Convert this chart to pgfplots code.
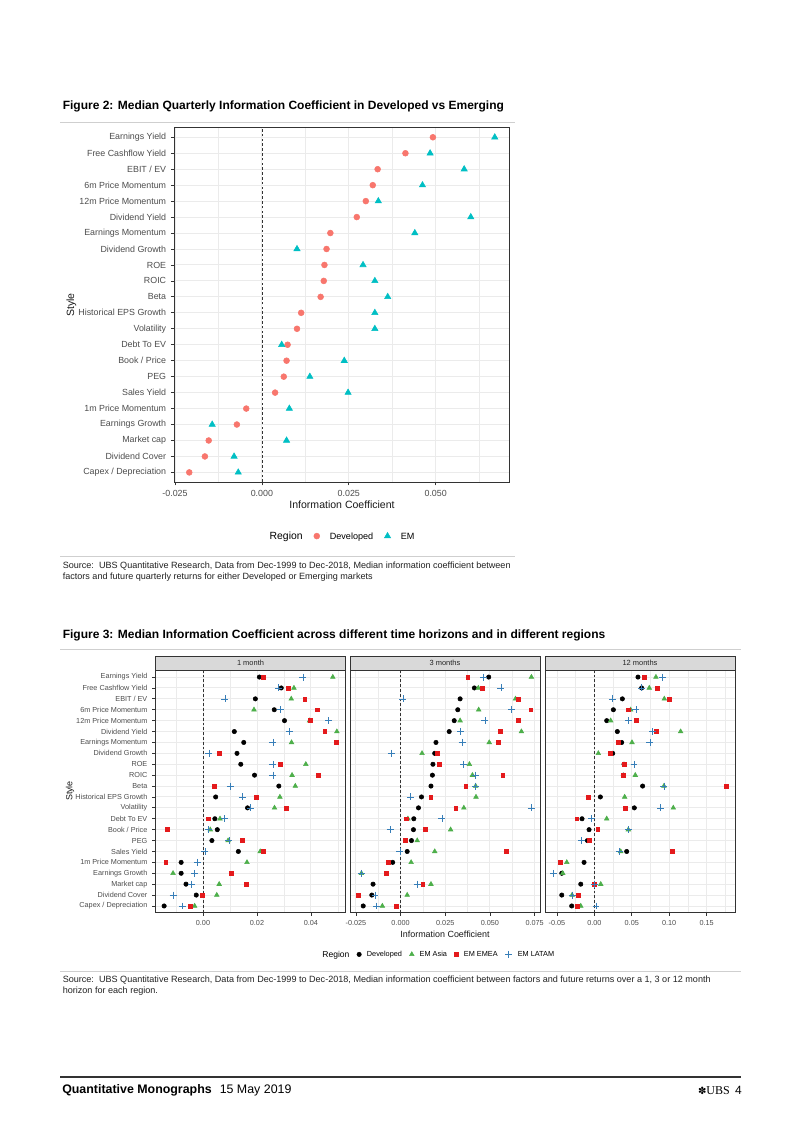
\documentclass[border=0pt]{standalone}
\usepackage{fontspec}
\setmainfont{Liberation Sans}
\newfontfamily\dejavu{DejaVu Sans}
\newfontfamily\tnr{Liberation Serif}
\usepackage{pgfplots}
\usepackage{pgfplotstable}
\pgfplotsset{compat=1.18}

\definecolor{devred}{HTML}{F8766D}
\definecolor{emcyan}{HTML}{00BFC4}
\definecolor{asiagreen}{HTML}{4DAF4A}
\definecolor{emeared}{HTML}{E41A1C}
\definecolor{latamblue}{HTML}{377EB8}
\definecolor{gridcol}{HTML}{EBEBEB}
\definecolor{frame}{HTML}{333333}
\definecolor{ticktext}{HTML}{4D4D4D}
\definecolor{stripfill}{HTML}{D9D9D9}
\definecolor{rulecol}{HTML}{CFCFCF}
\definecolor{bodytext}{HTML}{222222}

\newcommand{\fs}[1]{\fontsize{#1}{#1}\selectfont}

% Figure 2: median quarterly IC, rows numbered from the bottom (Capex=1)
\pgfplotstableread{
y  dev     em
22 0.0492  0.0670
21 0.0413  0.0484
20 0.0333  0.0582
19 0.0319  0.0462
18 0.0299  0.0335
17 0.0273  0.0601
16 0.0197  0.0440
15 0.0186  0.0101
14 0.0180  0.0291
13 0.0178  0.0325
12 0.0169  0.0362
11 0.0113  0.0325
10 0.0101  0.0325
9  0.0074  0.0057
8  0.0071  0.0237
7  0.0063  0.0138
6  0.0038  0.0248
5  -0.0045 0.0079
4  -0.0072 -0.0143
3  -0.0153 0.0071
2  -0.0164 -0.0080
1  -0.0209 -0.0068
}\figtwo

% Figure 3: 1 month
\pgfplotstableread{
y  dev     asia    emea    latam
22 0.0209  0.0481  0.0222  0.0370
21 0.0290  0.0337  0.0316  0.0280
20 0.0194  0.0327  0.0377  0.0081
19 0.0264  0.0189  0.0422  0.0286
18 0.0302  0.0395  0.0398  0.0465
17 0.0116  0.0496  0.0451  0.0319
16 0.0151  0.0328  0.0494  0.0259
15 0.0126  nan     0.0060  0.0022
14 0.0140  0.0381  0.0285  0.0259
13 0.0191  0.0330  0.0428  0.0259
12 0.0281  0.0342  0.0043  0.0101
11 0.0047  0.0285  0.0198  0.0146
10 0.0165  0.0265  0.0307  0.0175
9  0.0044  0.0063  0.0020  0.0079
8  0.0053  0.0027  -0.0133 0.0021
7  0.0033  0.0093  0.0144  0.0096
6  0.0131  0.0212  0.0223  0.0007
5  -0.0081 0.0163  -0.0138 -0.0021
4  -0.0081 -0.0111 0.0105  -0.0031
3  -0.0063 0.0060  0.0160  -0.0042
2  -0.0025 0.0051  -0.0004 -0.0111
1  -0.0144 -0.0031 -0.0046 -0.0077
}\onem

% 3 months
\pgfplotstableread{
y  dev     asia    emea    latam
22 0.0493  0.0732  0.0376  0.0463
21 0.0413  0.0435  0.0457  0.0561
20 0.0333  0.0643  0.0657  0.0013
19 0.0320  0.0437  0.0728  0.0620
18 0.0300  0.0333  0.0657  0.0472
17 0.0272  0.0676  0.0559  0.0337
16 0.0198  0.0496  0.0548  0.0344
15 0.0191  0.0120  0.0206  -0.0052
14 0.0181  0.0385  0.0215  0.0352
13 0.0178  0.0402  0.0572  0.0417
12 0.0170  0.0420  0.0365  0.0420
11 0.0117  0.0422  0.0169  0.0056
10 0.0100  0.0354  0.0309  0.0732
9  0.0074  0.0041  0.0030  0.0231
8  0.0072  0.0280  0.0139  -0.0059
7  0.0061  0.0093  0.0026  nan
6  0.0037  0.0191  0.0593  -0.0004
5  -0.0044 0.0059  -0.0069 nan
4  nan     -0.0219 -0.0078 -0.0219
3  -0.0154 0.0170  0.0124  0.0093
2  -0.0161 0.0037  -0.0235 -0.0143
1  -0.0209 -0.0102 -0.0022 -0.0133
}\threem

% 12 months
\pgfplotstableread{
y  dev     asia    emea    latam
22 0.0583  0.0823  0.0663  0.0912
21 0.0632  0.0734  0.0841  0.0632
20 0.0374  0.0935  0.1001  0.0240
19 0.0254  0.0485  0.0458  0.0556
18 0.0165  0.0218  0.0556  0.0454
17 0.0307  0.1153  0.0832  0.0779
16 0.0365  0.0503  0.0316  0.0743
15 0.0245  0.0053  0.0218  nan
14 0.0396  nan     0.0396  0.0530
13 0.0387  0.0547  0.0387  nan
12 0.0645  0.0930  0.1760  0.0930
11 0.0080  0.0405  -0.0080 nan
10 0.0534  0.1055  0.0418  0.0886
9  -0.0165 0.0165  -0.0236 -0.0036
8  -0.0071 0.0454  0.0045  0.0454
7  -0.0093 nan     -0.0067 -0.0169
6  0.0432  0.0352  0.1046  0.0334
5  -0.0138 -0.0369 -0.0458 nan
4  -0.0436 -0.0423 nan     -0.0547
3  -0.0182 0.0085  0.0000  0.0000
2  -0.0436 -0.0298 -0.0214 -0.0298
1  -0.0303 -0.0182 -0.0227 0.0022
}\twelvem

\pgfplotsset{
  ggaxis/.style={
    scale only axis,
    axis line style={draw=frame, line width=0.55pt},
    ymin=0.4, ymax=22.6, ytick={1,...,22},
    scaled x ticks=false,
    xmajorgrids, ymajorgrids, xminorgrids,
    major grid style={draw=gridcol, line width=0.7pt},
    minor grid style={draw=gridcol, line width=0.35pt},
    tick align=outside, tick pos=left,
    major tick length=2.6pt, minor tick length=0pt,
    tick style={draw=frame, line width=0.55pt},
    tick label style={text=ticktext},
  },
  gmark/.style={only marks,
    legend image code/.code={\draw[##1] plot coordinates {(0pt,0.06em)};}},
  zeroline/.style={forget plot, draw=frame, line width=0.5pt,
    dash pattern=on 2pt off 1.6pt},
}

\begin{document}
\begin{tikzpicture}
\begin{scope}[x=0.75pt,y=-0.75pt]
  \fill[white] (0,0) rectangle (802,1133);
  % Figure 2 heading and source
  \node[anchor=west, inner sep=0pt, font=\bfseries\fs{9}] at (62.5,106.5)
    {Figure 2: Median Quarterly Information Coefficient in Developed vs Emerging};
  \draw[rulecol, line width=0.75pt] (60,122) -- (515,122);
  \draw[rulecol, line width=0.75pt] (60,556) -- (515,556);
  \node[anchor=west, inner sep=0pt, text=bodytext, font=\fs{6.8}] at (62.5,566)
    {Source:\ \ UBS Quantitative Research, Data from Dec-1999 to Dec-2018, Median information coefficient between};
  \node[anchor=west, inner sep=0pt, text=bodytext, font=\fs{6.8}] at (62.5,577)
    {factors and future quarterly returns for either Developed or Emerging markets};
  \node[rotate=90, font=\fs{7.9}, text=black!90] at (71.5,305) {Style};
  \node[font=\fs{7.9}, text=black!90] at (342,505) {Information Coefficient};
  % Figure 3 heading and source
  \node[anchor=west, inner sep=0pt, font=\bfseries\fs{9}] at (62.5,635)
    {Figure 3: Median Information Coefficient across different time horizons and in different regions};
  \draw[rulecol, line width=0.75pt] (60,649) -- (741,649);
  \draw[rulecol, line width=0.75pt] (60,971) -- (741,971);
  \node[anchor=west, inner sep=0pt, text=bodytext, font=\fs{6.8}] at (62.5,980.5)
    {Source:\ \ UBS Quantitative Research, Data from Dec-1999 to Dec-2018, Median information coefficient between factors and future returns over a 1, 3 or 12 month};
  \node[anchor=west, inner sep=0pt, text=bodytext, font=\fs{6.8}] at (62.5,991.5)
    {horizon for each region.};
  \node[rotate=90, font=\fs{6.7}, text=black!90] at (70,791) {Style};
  \node[font=\fs{6.7}, text=black!90] at (445,934) {Information Coefficient};
  % strips
  \foreach \xl/\lab in {155.5/1 month, 350/3 months, 545/12 months}{
    \draw[fill=stripfill, draw=frame, line width=0.55pt] (\xl,656) rectangle ++(190,14.5);
    \node[font=\fs{5.6}, text=black!85] at (\xl+95,663.3) {\lab};
  }
  % footer
  \draw[black!80, line width=0.9pt] (60,1077) -- (741,1077);
  \node[anchor=west, inner sep=0pt, font=\fs{9.3}] at (62,1090)
    {\textbf{Quantitative Monographs}\hspace{6pt}15 May 2019};
  \node[anchor=east, inner sep=0pt, font=\fs{9}] at (742,1090)
    {{\dejavu\fs{7.5}✽}{\tnr UBS}\hspace{4pt}4};
\end{scope}

% ---------- Figure 2 ----------
\begin{axis}[ggaxis,
  at={(130.725pt,-95.775pt)}, anchor=north west,
  width=251.55pt, height=265.7pt,
  xmin=-0.0252, xmax=0.0713,
  xtick={-0.025,0,0.025,0.05},
  xticklabels={-0.025,0.000,0.025,0.050},
  minor xtick={-0.0125,0.0125,0.0375,0.0625},
  yticklabels={Capex / Depreciation, Dividend Cover, Market cap, Earnings Growth,
    1m Price Momentum, Sales Yield, PEG, Book / Price, Debt To EV, Volatility,
    Historical EPS Growth, Beta, ROIC, ROE, Dividend Growth, Earnings Momentum,
    Dividend Yield, 12m Price Momentum, 6m Price Momentum, EBIT / EV,
    Free Cashflow Yield, Earnings Yield},
  tick label style={font=\fs{6.65}},
  legend columns=-1,
  legend style={draw=none, fill=none, at={(0.485,-0.155)}, anchor=center,
    font=\fs{6.8}, nodes={inner sep=0pt},
    /tikz/every odd column/.append style={column sep=7.6pt},
    /tikz/every even column/.append style={column sep=8.4pt}},
]
\addlegendimage{empty legend}
\addlegendentry{\fs{7.8}Region}
\addplot[zeroline] coordinates {(0,0.4) (0,22.6)};
\addplot[gmark, mark=*, mark size=2.2pt, color=devred] table[x=dev,y=y]{\figtwo};
\addlegendentry{Developed}
\addplot[gmark, mark=triangle*, mark size=2.7pt, color=emcyan] table[x=em,y=y]{\figtwo};
\addlegendentry{EM}
\end{axis}

% ---------- Figure 3 ----------
\pgfplotsset{
  facet/.style={ggaxis, anchor=north west, width=142.5pt, height=181.5pt,
    tick label style={font=\fs{5.45}}},
}
\begin{axis}[facet, at={(116.625pt,-502.875pt)},
  xmin=-0.0176, xmax=0.0528,
  xtick={0,0.02,0.04}, xticklabels={0.00,0.02,0.04},
  minor xtick={-0.01,0.01,0.03,0.05},
  yticklabels={Capex / Depreciation, Dividend Cover, Market cap, Earnings Growth,
    1m Price Momentum, Sales Yield, PEG, Book / Price, Debt To EV, Volatility,
    Historical EPS Growth, Beta, ROIC, ROE, Dividend Growth, Earnings Momentum,
    Dividend Yield, 12m Price Momentum, 6m Price Momentum, EBIT / EV,
    Free Cashflow Yield, Earnings Yield},
]
\addplot[zeroline] coordinates {(0,0.4) (0,22.6)};
\addplot[gmark, mark=*, mark size=1.65pt, color=black] table[x=dev,y=y]{\onem};
\addplot[gmark, mark=triangle*, mark size=2pt, color=asiagreen] table[x=asia,y=y]{\onem};
\addplot[gmark, mark=square*, mark size=1.45pt, color=emeared] table[x=emea,y=y]{\onem};
\addplot[gmark, mark=+, mark size=2.6pt, color=latamblue, mark options={line width=0.5pt}] table[x=latam,y=y]{\onem};
\end{axis}

\begin{axis}[facet, at={(262.5pt,-502.875pt)},
  xmin=-0.0283, xmax=0.0780,
  xtick={-0.025,0,0.025,0.05,0.075},
  xticklabels={-0.025,0.000,0.025,0.050,0.075},
  minor xtick={-0.0125,0.0125,0.0375,0.0625},
  yticklabels={}, ytick style={draw=none},
  legend columns=-1,
  legend style={draw=none, fill=none, at={(0.45,-0.176)}, anchor=center,
    font=\fs{5.5}, nodes={inner sep=0pt},
    /tikz/every odd column/.append style={column sep=4.2pt},
    /tikz/every even column/.append style={column sep=5.6pt}},
]
\addlegendimage{empty legend}
\addlegendentry{\fs{6.4}Region}
\addplot[zeroline] coordinates {(0,0.4) (0,22.6)};
\addplot[gmark, mark=*, mark size=1.65pt, color=black] table[x=dev,y=y]{\threem};
\addlegendentry{Developed}
\addplot[gmark, mark=triangle*, mark size=2pt, color=asiagreen] table[x=asia,y=y]{\threem};
\addlegendentry{EM Asia}
\addplot[gmark, mark=square*, mark size=1.45pt, color=emeared] table[x=emea,y=y]{\threem};
\addlegendentry{EM EMEA}
\addplot[gmark, mark=+, mark size=2.6pt, color=latamblue, mark options={line width=0.5pt}] table[x=latam,y=y]{\threem};
\addlegendentry{EM LATAM}
\end{axis}

\begin{axis}[facet, at={(408.75pt,-502.875pt)},
  xmin=-0.066, xmax=0.188,
  xtick={-0.05,0,0.05,0.1,0.15},
  xticklabels={-0.05,0.00,0.05,0.10,0.15},
  minor xtick={-0.025,0.025,0.075,0.125,0.175},
  yticklabels={}, ytick style={draw=none},
]
\addplot[zeroline] coordinates {(0,0.4) (0,22.6)};
\addplot[gmark, mark=*, mark size=1.65pt, color=black] table[x=dev,y=y]{\twelvem};
\addplot[gmark, mark=triangle*, mark size=2pt, color=asiagreen] table[x=asia,y=y]{\twelvem};
\addplot[gmark, mark=square*, mark size=1.45pt, color=emeared] table[x=emea,y=y]{\twelvem};
\addplot[gmark, mark=+, mark size=2.6pt, color=latamblue, mark options={line width=0.5pt}] table[x=latam,y=y]{\twelvem};
\end{axis}
\end{tikzpicture}
\end{document}
